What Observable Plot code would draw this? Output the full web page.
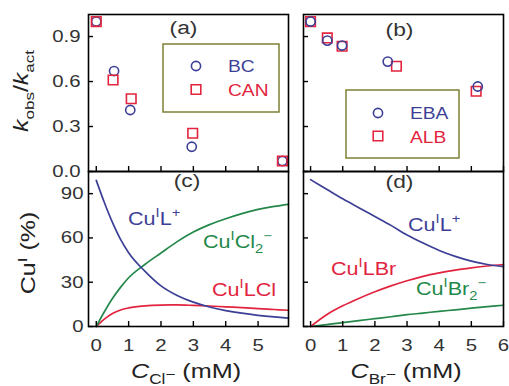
<!DOCTYPE html>
<html><head><meta charset="utf-8">
<script src="https://cdn.jsdelivr.net/npm/d3@7"></script>
<script src="https://cdn.jsdelivr.net/npm/@observablehq/plot@0.6"></script>
<style>
html,body{margin:0;padding:0;background:#fff;}
#chart{position:relative;width:509px;height:386px;overflow:hidden;font-family:"Liberation Sans",Arial,sans-serif;}
#chart svg{position:absolute;left:0;top:0;}
#chart text{font-family:"Liberation Sans",Arial,sans-serif;}
</style></head><body><div id="chart"></div>
<script>
// ---------- data ----------
// panel (a): k_obs/k_act vs C_Cl- (mM)
const bcX  = [0, 0.55, 1.05, 2.95, 5.75];
const bcY  = [1.0, 0.67, 0.41, 0.165, 0.07];
const canX = [0, 0.52, 1.08, 2.98, 5.75];
const canY = [1.0, 0.61, 0.485, 0.255, 0.07];
// panel (b): k_obs/k_act vs C_Br- (mM)
const ebaX = [0, 0.52, 0.98, 2.40, 5.20];
const ebaY = [1.0, 0.873, 0.84, 0.733, 0.567];
const albX = [0, 0.52, 0.98, 2.67, 5.15];
const albY = [1.0, 0.891, 0.835, 0.702, 0.535];
// panel (c): Cu(I) speciation (%) vs C_Cl- (mM)
const clX      = [0, 0.25, 0.5, 0.75, 1, 1.5, 2, 2.5, 3, 3.5, 4, 4.5, 5, 5.5, 5.94];
const clCuL    = [99, 84, 70.5, 59, 50, 37.5, 27.5, 21, 16.5, 13.2, 10.8, 9, 7.6, 6.5, 5.7];
const clCuCl2  = [0, 10, 19, 26.5, 33, 42, 49.8, 57.5, 64, 69, 73, 76.5, 79.3, 81.4, 82.8];
const clCuLCl  = [0, 5, 8.8, 11.2, 12.6, 14, 14.5, 14.6, 14.3, 13.9, 13.3, 12.8, 12.1, 11.5, 11];
// panel (d): Cu(I) speciation (%) vs C_Br- (mM)
const brX      = [0, 0.5, 1, 1.5, 2, 2.5, 3, 3.5, 4, 4.5, 5, 5.5, 6];
const brCuL    = [99.5, 93, 86.5, 80.5, 74.5, 68.5, 62, 56.5, 51.5, 47.5, 44.3, 42, 40.5];
const brCuLBr  = [0, 8, 14, 19, 23.5, 27.5, 31, 34, 36.3, 38.2, 39.7, 41, 42];
const brCuBr2  = [0, 1.3, 2.6, 4, 5.3, 6.6, 8, 9.1, 10.3, 11.3, 12.4, 13.4, 14.4];
// tick values
const ticksX5 = [0, 1, 2, 3, 4, 5];
const ticksX6 = [0, 1, 2, 3, 4, 5, 6];
const ticksK  = [0, 0.3, 0.6, 0.9];
const ticksCu = [0, 30, 60, 90];

// ---------- styling ----------
const FONT = '"Liberation Sans", Arial, sans-serif';
const SX = 1.2;
const BLUE = "#3d3f96", RED = "#e2243e", GREEN = "#24884a", OLIVE = "#7f8034";
const W = 509, H = 386;
const boxes = {
  a: {l: 88, r: 288, t: 14, b: 171},
  b: {l: 303, r: 503, t: 14, b: 171},
  c: {l: 88, r: 288, t: 171, b: 326},
  d: {l: 303, r: 503, t: 171, b: 326}
};
const pts = (xs, ys) => xs.map((x, i) => ({x, y: ys[i]}));

function stretch(root, sel) {
  root.querySelectorAll(sel).forEach(t => {
    const x = +(t.getAttribute("x") || 0);
    const tr = t.getAttribute("transform") || "";
    t.setAttribute("transform", `${tr} translate(${x},0) scale(${SX},1) translate(${-x},0)`);
  });
}

function panel(box, xdom, ydom, xticks, yticks, marks, opt) {
  const pw = box.r - box.l, ph = box.b - box.t;
  const svg = Plot.plot({
    width: W, height: H,
    marginLeft: box.l, marginRight: W - box.r, marginTop: box.t, marginBottom: H - box.b,
    x: Object.assign({domain: xdom, label: null}, opt.xaxis ? {} : {axis: null}),
    y: Object.assign({domain: ydom, label: null}, opt.yaxis ? {} : {axis: null}),
    style: {background: "transparent", fontFamily: FONT, overflow: "visible"},
    marks: [
      ...marks,
      Plot.ruleX(xticks, {x: d => d, insetTop: ph - 5, stroke: "#000", strokeWidth: 1.4}),
      Plot.ruleY(yticks, {y: d => d, insetRight: pw - 5, stroke: "#000", strokeWidth: 1.4}),
      opt.xaxis ? Plot.axisX({ticks: opt.xaxis, tickSize: 0, tickPadding: 12, fontSize: 17, color: "#333", label: null, tickFormat: d => String(d)}) : null,
      opt.yaxis ? Plot.axisY({ticks: opt.yaxis, tickSize: 0, tickPadding: opt.ypad, fontSize: 17, color: "#333", label: null, tickFormat: opt.yfmt}) : null,
      Plot.frame({stroke: "#000", strokeWidth: 1.6})
    ]
  });
  stretch(svg, "g[aria-label='x-axis tick label'] text, g[aria-label='y-axis tick label'] text");
  return svg;
}

const circ = (data, color) => Plot.dot(data, {x: "x", y: "y", symbol: "circle", r: 4.6, stroke: color, strokeWidth: 1.6, fill: "none"});
const sq = (data, color) => Plot.dot(data, {x: "x", y: "y", symbol: "square", r: 5.4, stroke: color, strokeWidth: 1.6, fill: "none"});
const curve = (data, color) => Plot.line(data, {x: "x", y: "y", stroke: color, strokeWidth: 1.7, curve: "monotone-x"});

const chart = document.getElementById("chart");

chart.append(panel(boxes.a, [-0.24, 5.94], [0, 1.047], ticksX5, ticksK,
  [circ(pts(bcX, bcY), BLUE), sq(pts(canX, canY), RED)],
  {yaxis: ticksK, ypad: 8, yfmt: d3.format(".1f")}));

chart.append(panel(boxes.b, [-0.22, 6], [0, 1.047], ticksX6, ticksK,
  [sq(pts(albX, albY), RED), circ(pts(ebaX, ebaY), BLUE)],
  {}));

chart.append(panel(boxes.c, [-0.24, 5.94], [0, 105], ticksX5, ticksCu,
  [curve(pts(clX, clCuLCl), RED), curve(pts(clX, clCuCl2), GREEN), curve(pts(clX, clCuL), BLUE)],
  {xaxis: ticksX5, yaxis: ticksCu, ypad: 5, yfmt: d => String(d)}));

chart.append(panel(boxes.d, [-0.22, 6], [0, 105], ticksX6, ticksCu,
  [curve(pts(brX, brCuBr2), GREEN), curve(pts(brX, brCuLBr), RED), curve(pts(brX, brCuL), BLUE)],
  {xaxis: ticksX6}));

// ---------- annotations overlay ----------
const ov = d3.create("svg").attr("width", W).attr("height", H)
  .attr("font-family", FONT).style("overflow", "visible");

function rich(segs, size, fill, anchor, transform) {
  const t = ov.append("text").attr("font-size", size).attr("fill", fill)
    .attr("font-family", FONT)
    .attr("text-anchor", anchor).attr("transform", transform);
  let cur = 0;
  for (const s of segs) {
    const shift = s.shift !== undefined ? s.shift * size : s.sup ? -0.42 * size : s.sub ? 0.28 * size : 0;
    t.append("tspan").attr("dy", shift - cur)
      .attr("font-size", (s.sup || s.sub) ? size * 0.68 : size)
      .attr("font-style", s.it ? "italic" : null)
      .text(s.t);
    cur = shift;
  }
  return t;
}
const hs = (x, y) => `translate(${x},${y}) scale(${SX},1)`;

// panel letters
[["(a)", 183.5, 34], ["(b)", 399.5, 36], ["(c)", 187, 187], ["(d)", 399.5, 188]].forEach(([s, x, y]) =>
  rich([{t: s}], 19, "#333", "middle", hs(x, y)));

// legends
function legend(x0, x1, y0, y1, mx, tx, rows) {
  ov.append("rect").attr("x", x0).attr("y", y0).attr("width", x1 - x0).attr("height", y1 - y0)
    .attr("fill", "none").attr("stroke", OLIVE).attr("stroke-width", 1.5);
  rows.forEach(r => {
    const size = r.sym === "circle" ? Math.PI * 4.6 * 4.6 : Math.PI * 5.4 * 5.4;
    ov.append("path").attr("d", d3.symbol(r.sym === "circle" ? d3.symbolCircle : d3.symbolSquare, size)())
      .attr("transform", `translate(${mx},${r.my})`).attr("fill", "none").attr("stroke", r.color).attr("stroke-width", 1.6);
    rich([{t: r.label}], 16, r.color, "start", hs(tx, r.ty));
  });
}
legend(163, 279, 44, 112, 196, 228, [
  {sym: "circle", color: BLUE, label: "BC", my: 66, ty: 72},
  {sym: "square", color: RED, label: "CAN", my: 89.5, ty: 96}
]);
legend(346, 459, 90, 158, 378, 410, [
  {sym: "circle", color: BLUE, label: "EBA", my: 113, ty: 119},
  {sym: "square", color: RED, label: "ALB", my: 136, ty: 142.5}
]);

// curve labels
const CS = 18;
rich([{t: "Cu"}, {t: "I", sup: true}, {t: "L"}, {t: "+", sup: true}], CS, BLUE, "start", hs(128, 225));
rich([{t: "Cu"}, {t: "I", sup: true}, {t: "Cl"}, {t: "2", sub: true}, {t: "−", sup: true}], CS, GREEN, "start", hs(203, 248));
rich([{t: "Cu"}, {t: "I", sup: true}, {t: "LCl"}], CS, RED, "start", hs(212, 296));
rich([{t: "Cu"}, {t: "I", sup: true}, {t: "L"}, {t: "+", sup: true}], CS, BLUE, "start", hs(408, 231));
rich([{t: "Cu"}, {t: "I", sup: true}, {t: "LBr"}], CS, RED, "start", hs(331, 275));
rich([{t: "Cu"}, {t: "I", sup: true}, {t: "Br"}, {t: "2", sub: true}, {t: "−", sup: true}], CS, GREEN, "start", hs(416, 295));

// axis titles
rich([{t: "C", it: true}, {t: "Cl", sub: true}, {t: "−", sub: true, shift: 0.05}, {t: " (mM)"}], 21, "#222", "middle", hs(186, 378));
rich([{t: "C", it: true}, {t: "Br", sub: true}, {t: "−", sub: true, shift: 0.05}, {t: " (mM)"}], 21, "#222", "middle", hs(406, 378));
rich([{t: "k", it: true}, {t: "obs", sub: true}, {t: "/"}, {t: "k", it: true}, {t: "act", sub: true}], 20, "#222", "middle",
  `translate(28,91) rotate(-90) scale(1.25,1)`);
rich([{t: "Cu"}, {t: "I", sup: true}, {t: " (%)"}], 20, "#222", "middle",
  `translate(35,253) rotate(-90) scale(1.25,1)`);

chart.append(ov.node());
</script>
</body></html>
